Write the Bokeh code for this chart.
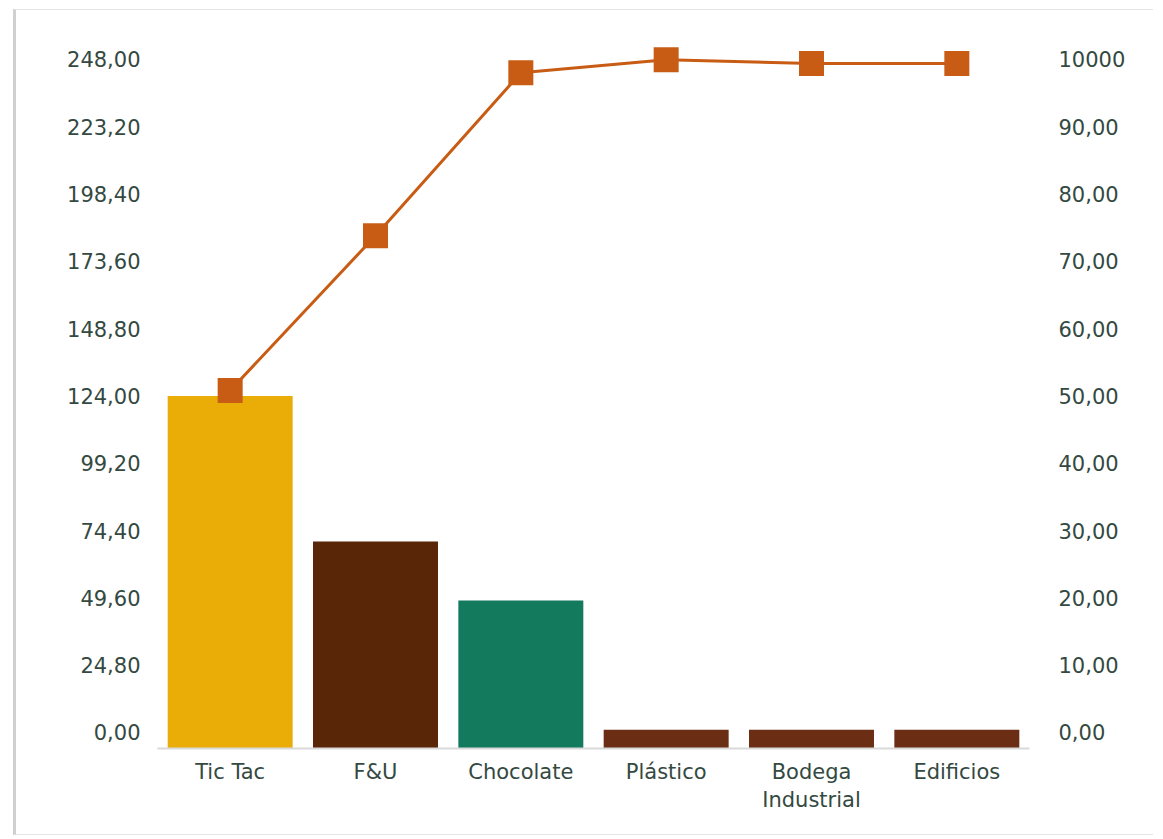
from bokeh.plotting import figure
from bokeh.models import Range1d, LinearAxis, FixedTicker, ColumnDataSource
from bokeh.embed import file_html
from bokeh.resources import INLINE

# ---- data ----
CATEGORIES = ["Tic Tac", "F&U", "Chocolate", "Plástico", "Bodega\nIndustrial", "Edificios"]
BAR_VALUES = [124.0, 70.4, 48.6, 1.0, 1.0, 1.0]
BAR_COLORS = ["#EAAD08", "#5A2608", "#137A5E", "#6B2E14", "#6B2E14", "#6B2E14"]
CUM_PCT = [50.8, 73.8, 98.0, 99.95, 99.4, 99.4]

LEFT_TICKS = [0, 24.8, 49.6, 74.4, 99.2, 124, 148.8, 173.6, 198.4, 223.2, 248]
LEFT_LABELS = ["0,00", "24,80", "49,60", "74,40", "99,20", "124,00", "148,80",
               "173,60", "198,40", "223,20", "248,00"]
RIGHT_TICKS = [0, 10, 20, 30, 40, 50, 60, 70, 80, 90, 100]
RIGHT_LABELS = ["0,00", "10,00", "20,00", "30,00", "40,00", "50,00", "60,00",
                "70,00", "80,00", "90,00", "10000"]

TEXT_COLOR = "#34493f"
FONT = "DejaVu Sans"
LINE_COLOR = "#C85C14"

Y_MIN, Y_MAX = -5.9, 255.0
P_MIN, P_MAX = -2.38, 102.8

p = figure(
    x_range=CATEGORIES,
    y_range=Range1d(Y_MIN, Y_MAX),
    width=1140, height=826,
    output_backend="svg", toolbar_location=None,
    min_border_left=141, min_border_right=127, min_border_top=30, min_border_bottom=88,
)
p.margin = (9, 0, 0, 13)
p.styles = {"border-left": "3px solid #d0d0d0", "border-top": "1px solid #e4e4e4",
            "border-bottom": "1px solid #e4e4e4"}
p.outline_line_color = None
p.xgrid.grid_line_color = None
p.ygrid.grid_line_color = None
p.background_fill_color = "white"
p.border_fill_color = "white"

src = ColumnDataSource(dict(cat=CATEGORIES, val=BAR_VALUES, color=BAR_COLORS, pct=CUM_PCT))
p.vbar(x="cat", top="val", bottom=Y_MIN, width=0.86, fill_color="color", line_color=None, source=src)

p.extra_y_ranges = {"pct": Range1d(P_MIN, P_MAX)}
p.line(x="cat", y="pct", y_range_name="pct", line_color=LINE_COLOR, line_width=3, source=src)
p.scatter(x="cat", y="pct", y_range_name="pct", marker="square", size=25,
          fill_color=LINE_COLOR, line_color=None, source=src)

# left axis
ya = p.yaxis[0]
ya.ticker = FixedTicker(ticks=LEFT_TICKS)
ya.major_label_overrides = {t: l for t, l in zip(LEFT_TICKS, LEFT_LABELS)}
ya.axis_line_color = None
ya.major_tick_line_color = None
ya.minor_tick_line_color = None
ya.major_label_standoff = 11
ya.major_label_text_font = FONT
ya.major_label_text_font_size = "21px"
ya.major_label_text_color = TEXT_COLOR

# right axis
ra = LinearAxis(y_range_name="pct")
ra.ticker = FixedTicker(ticks=RIGHT_TICKS)
ra.major_label_overrides = {t: l for t, l in zip(RIGHT_TICKS, RIGHT_LABELS)}
ra.axis_line_color = None
ra.major_tick_line_color = None
ra.minor_tick_line_color = None
ra.major_label_standoff = 23
ra.major_label_text_font = FONT
ra.major_label_text_font_size = "21px"
ra.major_label_text_color = TEXT_COLOR
p.add_layout(ra, "right")

xa = p.xaxis[0]
xa.axis_line_color = "#d9d9d9"
xa.axis_line_width = 2
xa.major_tick_line_color = None
xa.minor_tick_line_color = None
xa.major_label_standoff = 5
xa.major_label_text_font = FONT
xa.major_label_text_font_size = "21px"
xa.major_label_text_color = TEXT_COLOR

open("out.html", "w").write(file_html(p, INLINE))
